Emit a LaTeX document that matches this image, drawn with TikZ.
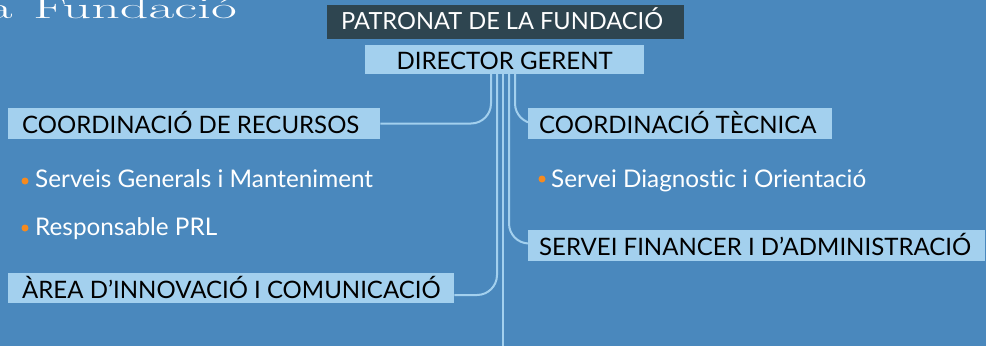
\documentclass[tikz,border=0pt]{standalone}
\usepackage{fontspec}
\newfontfamily\boxfont[Ligatures=NoCommon]{Lato}
\usetikzlibrary{backgrounds}
\pgfdeclarelayer{bglayer}
\pgfdeclarelayer{linelayer}
\pgfsetlayers{bglayer,linelayer,main}
\definecolor{cBg}{RGB}{74,136,189}
\definecolor{cDark}{RGB}{46,69,80}
\definecolor{cLight}{RGB}{163,208,238}
\definecolor{cOrange}{RGB}{245,138,31}
\tikzset{
  boxbase/.style={anchor=base west, inner ysep=0pt, inner xsep=14pt,
    font=\boxfont\fontsize{24}{24}\selectfont},
  darkstyle/.style={boxbase, fill=cDark, text=white},
  lightstyle/.style={boxbase, fill=cLight, text=black},
  conn/.style={draw=cLight, line width=2pt, rounded corners=20pt},
  itemtext/.style={anchor=base west, inner sep=0pt, text=white,
    font=\boxfont\fontsize{24.3}{24.3}\selectfont},
  bullet/.style={circle, fill=cOrange, inner sep=0pt, minimum size=7pt},
}
\begin{document}
\begin{tikzpicture}[x=1pt,y=-1pt]
\useasboundingbox (0,0) rectangle (986,346);
\clip (0,0) rectangle (986,346);
\begin{pgfonlayer}{bglayer}
\fill[cBg] (0,0) rectangle (986,346);
\end{pgfonlayer}

\node[anchor=base west, text=white, inner sep=0pt, font=\fontsize{30}{30}\selectfont] (title) at (33,18) {\scalebox{1.87}[1]{\makebox[0pt][r]{a\hspace{11pt}}Fundació}};

\node[darkstyle, text height=24pt, text depth=10pt, font=\boxfont\fontsize{23.6}{23.6}\selectfont] (pat) at (327,29) {\makebox[329pt][l]{PATRONAT DE LA FUNDACIÓ}};
\node[lightstyle, text height=24pt, text depth=5pt] (dir) at (365,69) {\makebox[251pt][c]{DIRECTOR GERENT}};
\node[lightstyle, text height=25pt, text depth=6pt] (rec) at (8,133) {\makebox[344pt][l]{COORDINACIÓ DE RECURSOS}};
\node[lightstyle, text height=25pt, text depth=5pt] (area) at (8,298) {\makebox[418pt][l]{ÀREA D’INNOVACIÓ I COMUNICACIÓ}};
\node[lightstyle, inner xsep=11pt, text height=25pt, text depth=6pt] (tec) at (528,133) {\makebox[282pt][l]{COORDINACIÓ TÈCNICA}};
\node[lightstyle, inner xsep=11pt, text height=25pt, text depth=6pt] (fin) at (528,255) {\makebox[435pt][l]{SERVEI FINANCER I D’ADMINISTRACIÓ}};

\node[bullet] (b1) at (25,181) {};
\node[itemtext] (i1) at (35,187) {Serveis Generals i Manteniment};
\node[bullet] (b2) at (25,228) {};
\node[itemtext] (i2) at (35,235) {Responsable PRL};
\node[bullet] (b3) at (542,179) {};
\node[itemtext] (i3) at (551,187) {Servei Diagnostic i Orientació};

\coordinate (bot) at (503,346);
\begin{pgfonlayer}{linelayer}
\draw[conn] ([xshift=126pt]dir.south west) |- (rec.east);
\draw[conn] ([xshift=132pt]dir.south west) |- ([yshift=-7pt]area.east);
\draw[conn] ([xshift=138pt]dir.south west) -- (bot);
\draw[conn] ([xshift=144pt]dir.south west) |- ([xshift=10pt,yshift=2pt]fin.west);
\draw[conn] ([xshift=150pt]dir.south west) |- ([xshift=10pt]tec.west);
\end{pgfonlayer}
\end{tikzpicture}
\end{document}
